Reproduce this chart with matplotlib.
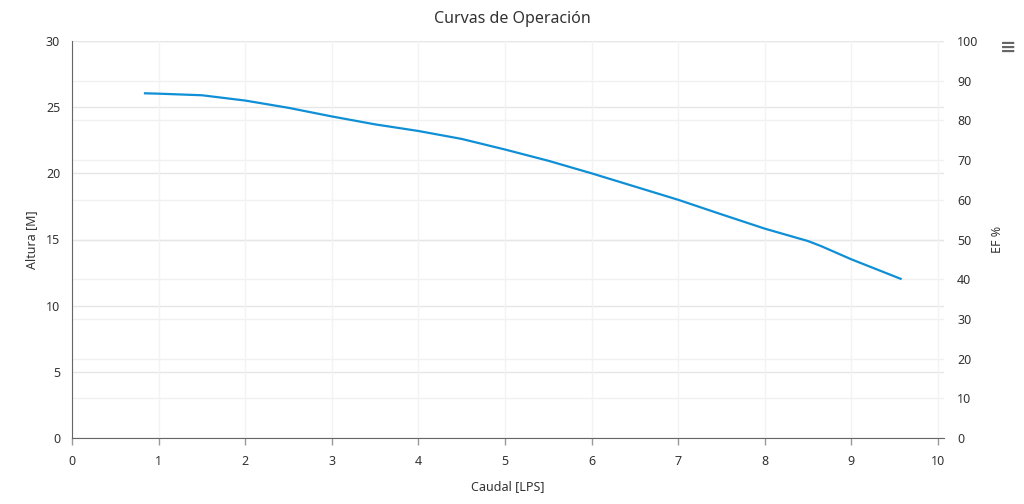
import matplotlib
matplotlib.use("Agg")
import matplotlib.pyplot as plt

plt.rcParams["font.family"] = ["Noto Sans", "DejaVu Sans"]

# curve (caudal LPS -> altura m)
caudal = [0.83, 1.0, 1.5, 2.0, 2.5, 3.0, 3.5, 4.0, 4.5, 5.0,
          5.5, 6.0, 6.5, 7.0, 7.5, 8.0, 8.5, 8.65, 9.0, 9.58]
altura = [26.05, 26.02, 25.9, 25.5, 24.95, 24.3, 23.7, 23.2, 22.6, 21.8,
          20.95, 20.0, 19.0, 18.0, 16.9, 15.82, 14.88, 14.5, 13.5, 12.0]

x_ticks = list(range(0, 11))
left_ticks = [0, 5, 10, 15, 20, 25, 30]
right_ticks = [0, 10, 20, 30, 40, 50, 60, 70, 80, 90, 100]

TXT = "#333333"

fig = plt.figure(figsize=(10.24, 5.04), dpi=100)
ax = fig.add_axes([72 / 1024, 1 - 438 / 504, 872 / 1024, 397 / 504])
ax2 = ax.twinx()

ax.set_xlim(0, 10 * 872 / 866)
ax.set_ylim(0, 30)
ax2.set_ylim(0, 100)

# grid: left axis, right axis and vertical
for v in left_ticks:
    ax.axhline(v, color="#e6e6e6", lw=1.0, zorder=0)
for v in right_ticks:
    ax2.axhline(v, color="#f0f0f0", lw=1.0, zorder=0)
for v in x_ticks:
    ax.axvline(v, color="#f3f3f3", lw=1.0, zorder=0)

ax.set_zorder(ax2.get_zorder() + 1)
ax.patch.set_visible(False)

ax.plot(caudal, altura, color="#0f8fd5", lw=1.6, solid_capstyle="butt", zorder=3)

ax.set_xticks(x_ticks)
ax.set_yticks(left_ticks)
ax2.set_yticks(right_ticks)

ax.tick_params(axis="x", length=5, width=1, color="#999999", labelsize=9,
               labelcolor=TXT, pad=7)
ax.tick_params(axis="y", length=0, labelsize=9, labelcolor=TXT, pad=8.5)
ax2.tick_params(axis="y", length=0, labelsize=9, labelcolor=TXT, pad=9.5)

for s in ["top", "right"]:
    ax.spines[s].set_visible(False)
for s in ["top", "right", "left", "bottom"]:
    ax2.spines[s].set_visible(False)
ax.spines["left"].set_color("#666666")
ax.spines["bottom"].set_color("#666666")

ax.set_xlabel("Caudal [LPS]", fontsize=9, color=TXT, labelpad=9)
ax.set_ylabel("Altura [M]", fontsize=9, color=TXT, labelpad=6)
ax2.set_ylabel("EF %", fontsize=9, color=TXT, labelpad=9)

fig.text(0.5, 0.962, "Curvas de Operación", ha="center", va="center",
         fontsize=11.5, color=TXT)
fig.text(1008 / 1024, 1 - 47 / 504, "≡", ha="center", va="center",
         fontsize=14, color="#666666", family="DejaVu Sans", fontweight="bold")

fig.savefig("out.png", dpi=100)
